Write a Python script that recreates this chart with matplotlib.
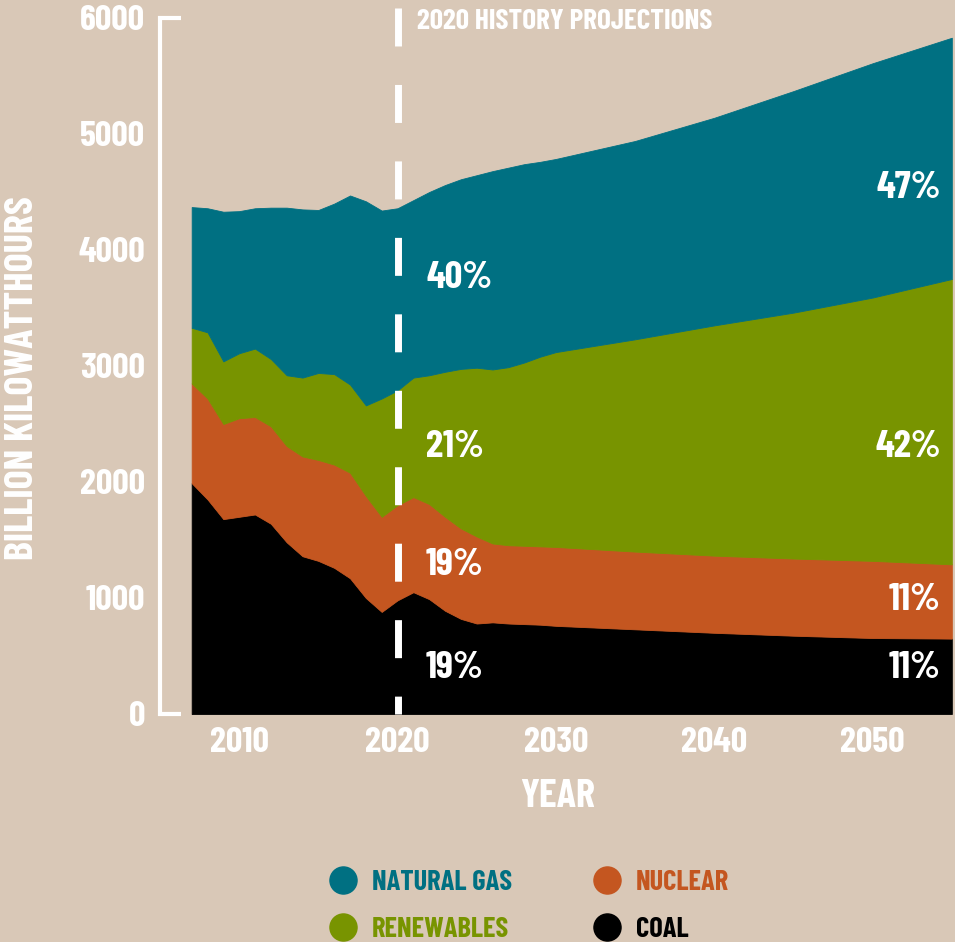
import matplotlib
matplotlib.use("Agg")
import matplotlib.pyplot as plt
from matplotlib.lines import Line2D

plt.rcParams['font.family'] = ['Barlow Condensed', 'DejaVu Sans']
plt.rcParams['font.weight'] = 'bold'

BG = '#d9c8b7'
GAS_C = '#007082'
REN_C = '#789400'
NUC_C = '#c45620'
COAL_C = '#000000'

# net generation by source, billion kWh (history to 2020, projections after)
years = [2007, 2008, 2009, 2010, 2011, 2012, 2013, 2014, 2015, 2016, 2017, 2018,
         2019, 2020, 2021, 2022, 2023, 2024, 2025, 2026, 2027, 2028, 2029, 2030,
         2035, 2040, 2045, 2050, 2055]
coal = [1990, 1850, 1680, 1700, 1720, 1640, 1480, 1360, 1320, 1260, 1170, 1000,
        880, 980, 1050, 990, 890, 820, 780, 790, 780, 775, 770, 760,
        730, 700, 675, 655, 650]
nuclear = [860, 870, 820, 850, 840, 840, 830, 860, 870, 890, 910, 880,
           820, 820, 820, 820, 810, 780, 750, 680, 675, 675, 675, 680,
           670, 665, 665, 665, 640]
renewables = [480, 570, 540, 560, 590, 580, 610, 680, 750, 780, 760, 780,
              1020, 990, 1030, 1110, 1250, 1375, 1455, 1500, 1535, 1580, 1635, 1680,
              1830, 1985, 2120, 2270, 2460]
natural_gas = [1040, 1070, 1290, 1225, 1210, 1305, 1445, 1450, 1405, 1470, 1630, 1760,
               1620, 1570, 1530, 1580, 1610, 1635, 1660, 1710, 1720, 1710, 1680, 1665,
               1710, 1790, 1910, 2020, 2080]

# share labels: (text, year, baseline value, alignment)
share_labels = [
    ('40%', 2021.8, 3672, 'left'), ('21%', 2021.8, 2216, 'left'),
    ('19%', 2021.8, 1198, 'left'), ('19%', 2021.8, 310, 'left'),
    ('47%', 2054.3, 4448, 'right'), ('42%', 2054.3, 2216, 'right'),
    ('11%', 2054.3, 897, 'right'), ('11%', 2054.3, 310, 'right'),
]

legend_items = [('NATURAL GAS', GAS_C), ('NUCLEAR', NUC_C),
                ('RENEWABLES', REN_C), ('COAL', COAL_C)]

W, H = 955, 942
fig = plt.figure(figsize=(W / 100, H / 100), dpi=100, facecolor=BG)
ax = fig.add_axes([160 / W, 228 / H, (W - 160) / W, (714 - 18) / H])
ax.set_facecolor(BG)

polys = ax.stackplot(years, coal, nuclear, renewables, natural_gas,
                     colors=[COAL_C, NUC_C, REN_C, GAS_C], linewidth=0.6)
for p, c in zip(polys, [COAL_C, NUC_C, REN_C, GAS_C]):
    p.set_edgecolor(c)

ax.set_xlim(2005, 2055.2)
ax.set_ylim(0, 6000)
for s in ax.spines.values():
    s.set_visible(False)

ax.set_xticks([2010, 2020, 2030, 2040, 2050])
ax.set_yticks(range(0, 6001, 1000))
ax.tick_params(axis='both', length=0, labelcolor='white', labelsize=26)
ax.tick_params(axis='y', pad=10.8)
ax.tick_params(axis='x', pad=9)

# y axis bracket
ax.plot([2006.3, 2005, 2005, 2006.3], [6000, 6000, 0, 0], color='white', lw=3,
        clip_on=False, solid_joinstyle='miter', solid_capstyle='butt', zorder=4)

# history / projections divider
ax.plot([2020, 2020], [6086, 0], color='white', lw=5, dashes=(5.47, 5.54),
        clip_on=False, zorder=4)
ax.text(2021.2, 5905, '2020 HISTORY PROJECTIONS', color='white', fontsize=21,
        ha='left', va='baseline', zorder=5)

for txt, x, y, ha in share_labels:
    ax.text(x, y, txt, color='white', fontsize=28, ha=ha, va='baseline', zorder=5)

fig.text(558 / W, (H - 807) / H, 'YEAR', color='white', fontsize=29,
         ha='center', va='baseline')
fig.text(23 / W, (H - 378) / H, 'BILLION KILOWATTHOURS', color='white',
         fontsize=29, rotation=90, ha='center', va='center')

# legend, two rows by two columns
pos = [(343, 880), (607, 880), (343, 927), (607, 927)]
for (label, c), (cx, cy) in zip(legend_items, pos):
    fig.add_artist(Line2D([cx / W], [(H - cy) / H], marker='o', markersize=19.5,
                          markerfacecolor=c, markeredgecolor=c, linestyle='none',
                          transform=fig.transFigure))
    fig.text((cx + 29) / W, (H - cy - 10) / H, label, color=c, fontsize=20.5,
             ha='left', va='baseline')

fig.savefig('out.png', dpi=100, facecolor=BG)
